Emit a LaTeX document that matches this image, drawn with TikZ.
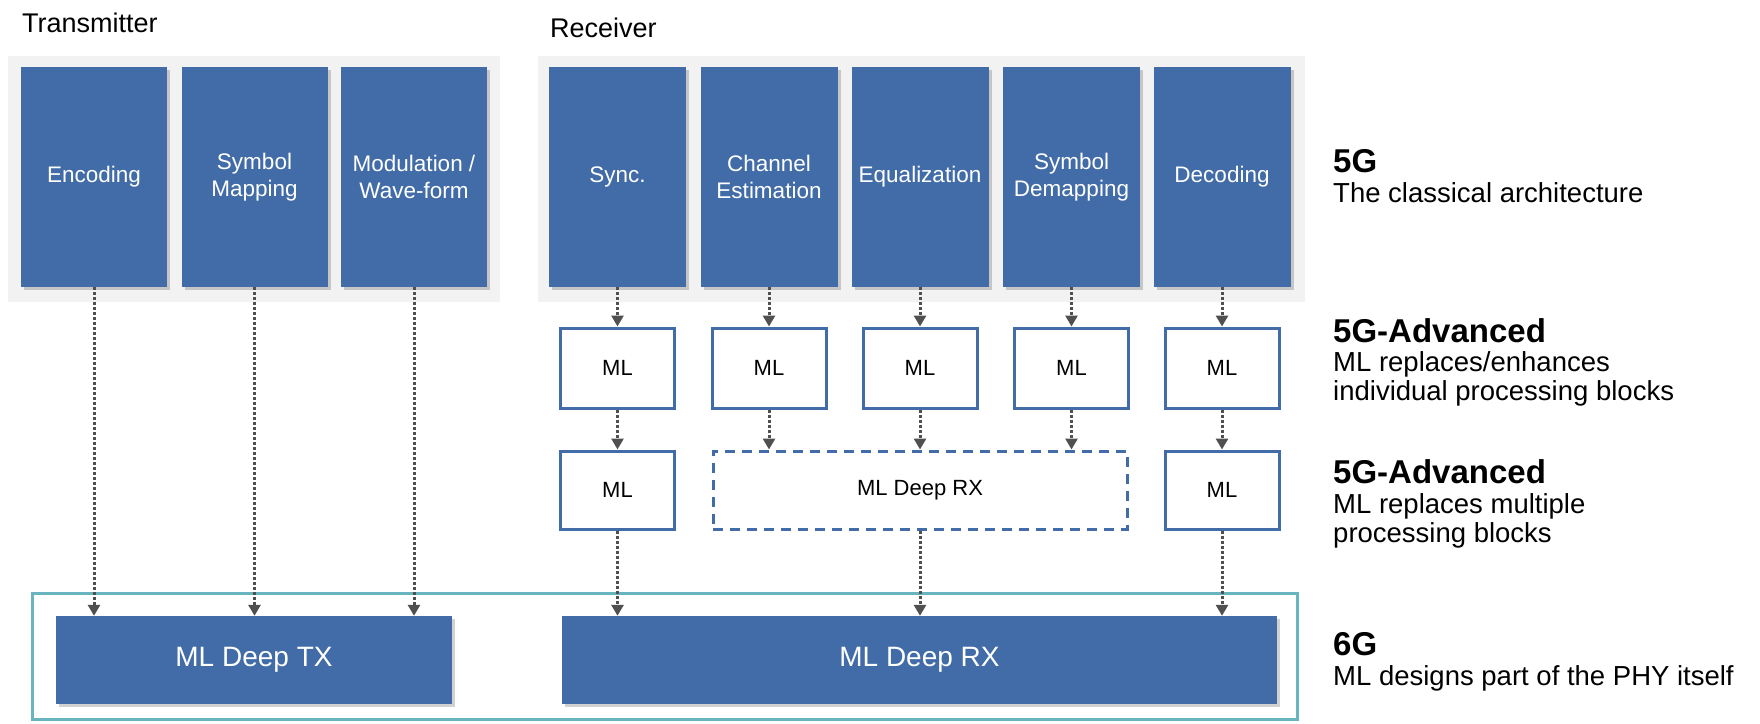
\documentclass[tikz,border=0pt]{standalone}
\usepackage{fontspec}
\setmainfont{Liberation Sans}
\usetikzlibrary{arrows.meta,shadows}
\definecolor{blk}{RGB}{66,108,168}
\definecolor{panelgray}{RGB}{242,242,242}
\definecolor{teal6g}{RGB}{104,181,191}
\definecolor{arrgray}{RGB}{80,80,80}
\begin{document}
\begin{tikzpicture}[x=1pt,y=-1pt,
  panel/.style={fill=panelgray, draw=none, inner sep=0pt, rectangle},
  bluebox/.style={fill=blk, draw=none, text=white, inner sep=0pt, minimum height=220pt,
    align=center, font=\fontsize{22.5}{27}\selectfont,
    drop shadow={shadow xshift=3pt, shadow yshift=-3pt, opacity=0.18, fill=black}},
  mlbox/.style={draw=blk, line width=3pt, fill=white, minimum width=114pt,
    minimum height=80pt, inner sep=0pt, font=\fontsize{22}{26}\selectfont},
  dashbox/.style={draw=blk, line width=3pt, dash pattern=on 10pt off 7pt,
    minimum width=414pt, minimum height=78pt, inner sep=0pt, font=\fontsize{22}{26}\selectfont},
  deepbox/.style={fill=blk, draw=none, text=white, inner sep=0pt, minimum height=88pt,
    font=\fontsize{28}{32}\selectfont,
    drop shadow={shadow xshift=3pt, shadow yshift=-3pt, opacity=0.18, fill=black}},
  flow/.style={draw=arrgray, line width=3pt, dash pattern=on 3pt off 2pt,
    -{Triangle[width=12pt,length=11pt]}},
  sect/.style={anchor=base west, inner sep=0pt, font=\fontsize{27}{30}\selectfont},
  head/.style={anchor=base west, inner sep=0pt, font=\fontsize{33}{36}\selectfont\bfseries},
  desc/.style={anchor=base west, inner sep=0pt, font=\fontsize{27.5}{30}\selectfont}
]
\useasboundingbox (0,0) rectangle (1760,723);
\fill[white] (0,0) rectangle (1760,723);

% section titles
\node[sect] (ttx) at (22,32) {Transmitter};
\node[sect] (trx) at (550,37) {Receiver};

% panels
\node[panel, minimum width=492pt, minimum height=246pt] (txp) at (254,179) {};
\node[panel, minimum width=767pt, minimum height=246pt] (rxp) at (921.5,179) {};

% transmitter blocks
\node[bluebox, minimum width=146pt] (enc) at (94,177) {Encoding};
\node[bluebox, minimum width=146pt] (smap) at (254.5,177) {Symbol\\Mapping};
\node[bluebox, minimum width=146pt] (mod) at (414,177) {Modulation /\\Wave-form};

% receiver blocks
\node[bluebox, minimum width=137pt] (sync) at (617.5,177) {Sync.};
\node[bluebox, minimum width=137pt] (chest) at (769,177) {Channel\\Estimation};
\node[bluebox, minimum width=137pt] (equ) at (920,177) {Equalization};
\node[bluebox, minimum width=137pt] (sdem) at (1071.5,177) {Symbol\\Demapping};
\node[bluebox, minimum width=137pt] (dec) at (1222,177) {Decoding};

% ML row 1
\node[mlbox] (mla) at (617.5,368) {ML};
\node[mlbox] (mlb) at (769,368) {ML};
\node[mlbox] (mlc) at (920,368) {ML};
\node[mlbox] (mld) at (1071.5,368) {ML};
\node[mlbox] (mle) at (1222,368) {ML};

% ML row 2
\node[mlbox, minimum height=78pt] (mlf) at (617.5,490) {ML};
\node[dashbox] (drx) at (920,490) {ML Deep RX};
\node[mlbox, minimum height=78pt] (mlg) at (1222,490) {ML};

% 6G frame
\node[draw=teal6g, line width=3pt, minimum width=1265pt, minimum height=126pt, inner sep=0pt] (frame) at (664.5,656) {};

% deep blocks
\node[deepbox, minimum width=396pt] (dtx) at (254,660) {ML Deep TX};
\node[deepbox, minimum width=715pt] (drxb) at (919.5,660) {ML Deep RX};

% connectors: transmitter
\draw[flow] (enc.south) -- (enc.south |- dtx.north);
\draw[flow] (smap.south) -- (smap.south |- dtx.north);
\draw[flow] (mod.south) -- (mod.south |- dtx.north);

% connectors: receiver row 0 -> row 1
\draw[flow] (sync.south) -- (mla.north);
\draw[flow] (chest.south) -- (mlb.north);
\draw[flow] (equ.south) -- (mlc.north);
\draw[flow] (sdem.south) -- (mld.north);
\draw[flow] (dec.south) -- (mle.north);

% row 1 -> row 2
\draw[flow] (mla.south) -- (mlf.north);
\draw[flow] (mlb.south) -- (mlb.south |- drx.north);
\draw[flow] (mlc.south) -- (mlc.south |- drx.north);
\draw[flow] (mld.south) -- (mld.south |- drx.north);
\draw[flow] (mle.south) -- (mlg.north);

% row 2 -> deep RX
\draw[flow] (mlf.south) -- (mlf.south |- drxb.north);
\draw[flow] (drx.south) -- (drx.south |- drxb.north);
\draw[flow] (mlg.south) -- (mlg.south |- drxb.north);

% right-hand labels
\node[head] (h1) at (1333,172) {5G};
\node[desc] (d1) at (1333,202) {The classical architecture};
\node[head] (h2) at (1333,342) {5G-Advanced};
\node[desc] (d2a) at (1333,371) {ML replaces/enhances};
\node[desc] (d2b) at (1333,400) {individual processing blocks};
\node[head] (h3) at (1333,483) {5G-Advanced};
\node[desc] (d3a) at (1333,513) {ML replaces multiple};
\node[desc] (d3b) at (1333,542) {processing blocks};
\node[head] (h4) at (1333,655) {6G};
\node[desc] (d4) at (1333,685) {ML designs part of the PHY itself};
\end{tikzpicture}
\end{document}
